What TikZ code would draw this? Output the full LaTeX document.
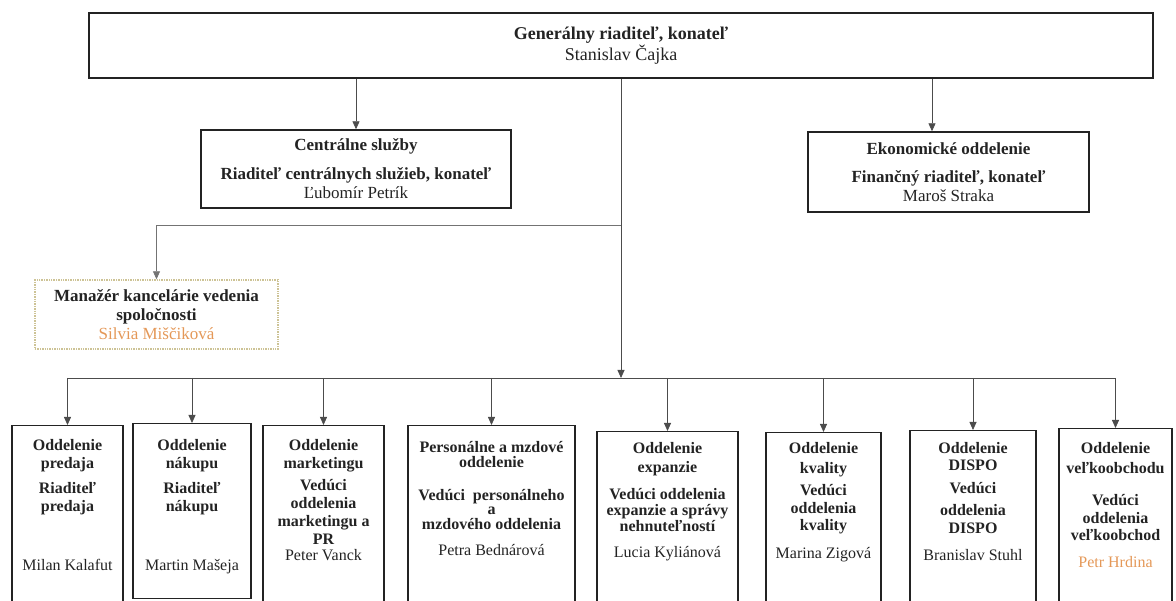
\documentclass[tikz,border=0pt]{standalone}
\usepackage{fontspec}
\setmainfont{Liberation Serif}
\usetikzlibrary{arrows.meta}
\definecolor{inkcol}{RGB}{35,35,35}
\definecolor{namecol}{RGB}{228,152,88}
\definecolor{mgrline}{RGB}{205,195,150}

\begin{document}
\begin{tikzpicture}[x=1pt,y=-1pt,
    box/.style={draw=inkcol,line width=1.4pt,inner sep=0pt,align=center,text=inkcol},
    conn/.style={draw=black!70,line width=0.8pt,-{Triangle[width=7pt,length=8pt]}},
    deptbox/.style={draw=inkcol,line width=1.3pt,anchor=north,inner sep=0pt},
    depttext/.style={anchor=north,align=center,inner sep=0pt,text=inkcol,font=\fontsize{16}{18}\selectfont\bfseries}]

    \useasboundingbox (0,0) rectangle (1176,601);

    \node[box,minimum width=1064,minimum height=65,font=\fontsize{18}{21}\selectfont] (gen) at (621,45.5)
        {\textbf{Generálny riaditeľ, konateľ}\\Stanislav Čajka};
    \node[box,minimum width=310,minimum height=78,font=\fontsize{17}{19}\selectfont] (cent) at (356,169)
        {\textbf{Centrálne služby}\\[10pt]\textbf{Riaditeľ centrálnych služieb, konateľ}\\Ľubomír Petrík};
    \node[box,minimum width=281,minimum height=80,font=\fontsize{17}{19}\selectfont] (econ) at (948.5,172)
        {\textbf{Ekonomické oddelenie}\\[9pt]\textbf{Finančný riaditeľ, konateľ}\\Maroš Straka};
    \node[box,draw=mgrline,densely dotted,minimum width=243,minimum height=69,font=\fontsize{17}{19}\selectfont] (mgr) at (156.5,314.5)
        {\textbf{Manažér kancelárie vedenia}\\\textbf{spoločnosti}\\\textcolor{namecol}{Silvia Miščiková}};

    \foreach \k/\xl/\xr/\yt/\yb/\sh/\txt in {
        1/12/123/425/603/14/{Oddelenie\\predaja\\[7pt]Riaditeľ\\predaja\\[41pt]\mdseries Milan Kalafut},
        2/133/251/423/598/16/{Oddelenie\\nákupu\\[7pt]Riaditeľ\\nákupu\\[41pt]\mdseries Martin Mašeja},
        3/263/384/425/603/14/{Oddelenie\\marketingu\\[4pt]Vedúci\\oddelenia\\marketingu a\\PR\\[-2pt]\mdseries Peter Vanck},
        4/408/575/425/603/16/{Personálne a mzdové\\[-3pt]oddelenie\\[15pt]Vedúci\ \ personálneho\\[-4pt]a\\[-3pt]mzdového oddelenia\\[8pt]\mdseries Petra Bednárová},
        5/597/738/431/603/11/{Oddelenie\\[1pt]expanzie\\[9pt]Vedúci oddelenia\\[-2pt]expanzie a správy\\[-2pt]nehnuteľností\\[8pt]\mdseries Lucia Kyliánová},
        6/766/881/432/603/10/{Oddelenie\\[2pt]kvality\\[4pt]Vedúci\\oddelenia\\[-1pt]kvality\\[10pt]\mdseries Marina Zigová},
        7/910/1036/430/603/12/{Oddelenie\\[-1pt]DISPO\\[5pt]Vedúci\\[4pt]oddelenia\\DISPO\\[9pt]\mdseries Branislav Stuhl},
        8/1059/1172/428/603/14/{Oddelenie\\[2pt]veľkoobchodu\\[14pt]Vedúci\\oddelenia\\[-1pt]veľkoobchod\\[9pt]\color{namecol}\mdseries Petr Hrdina}}{
        \node[deptbox,minimum width={\xr-\xl},minimum height={\yb-\yt}] (dept\k) at ({(\xl+\xr)/2},\yt) {};
        \node[depttext] (label\k) at ([yshift=-\sh]dept\k.north) {\txt};
    }

    \coordinate (hub) at (621,378);
    \coordinate (mgrfork) at (621,225);
    \coordinate (econin) at ([xshift=-16.5pt]econ.north);

    \draw[conn] (gen.south) -- (hub);
    \draw[conn] (gen.south -| cent.north) -- (cent.north);
    \draw[conn] (gen.south -| econin) -- (econin);
    \draw[conn,draw=black!55] (mgrfork) -| (mgr.north);
    \draw[draw=black!70,line width=0.8pt] (hub -| dept1.north) -- (hub -| dept8.north);
    \foreach \k in {1,...,8}
        \draw[conn] (hub -| dept\k.north) -- (dept\k.north);
\end{tikzpicture}
\end{document}
